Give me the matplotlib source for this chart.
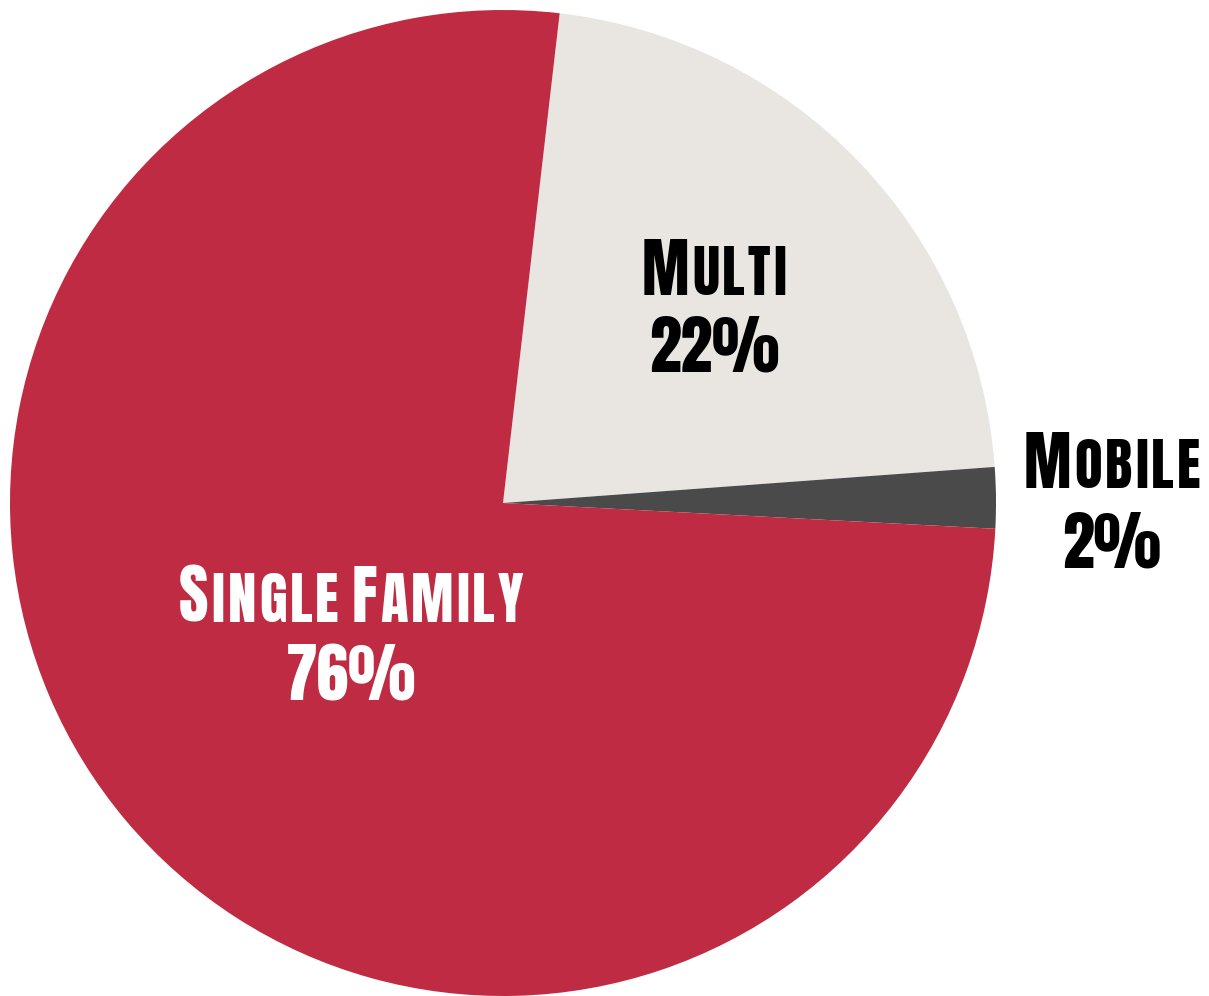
import matplotlib
matplotlib.use("Agg")
import matplotlib.pyplot as plt
import matplotlib.transforms as transforms

# Housing type shares
categories = ["Multi", "Mobile", "Single Family"]
shares = [22, 2, 76]
pct_labels = ["22%", "2%", "76%"]

colors = ["#E9E6E1", "#4A4A4A", "#BE2B42"]
text_colors = ["black", "black", "white"]
# label centre x, name baseline y, pct baseline y (data units, radius = 1)
label_pos = [(0.428, 0.422, 0.266), (1.235, 0.030, -0.130), (-0.308, -0.241, -0.400)]

FONT = ["Anton", "Liberation Sans Narrow", "DejaVu Sans"]
BIG, SMALL = 46, 41
TRACK = 3  # extra px between letters

fig = plt.figure(figsize=(12.09, 9.96), dpi=100)
ax = fig.add_axes([10 / 1209, 0, 986 / 1209, 986 / 996])
ax.pie(shares, colors=colors, startangle=83.4, counterclock=False,
       radius=1, wedgeprops=dict(linewidth=0))
ax.set_xlim(-1, 1)
ax.set_ylim(-1, 1)
ax.axis("off")

renderer = fig.canvas.get_renderer()


def small_caps(x, y, text, color, big=BIG, small=SMALL):
    # small caps by hand: first letter of each word large, rest smaller
    pieces = []
    for i, word in enumerate(text.split(" ")):
        if i:
            pieces.append((" ", small))
        for j, ch in enumerate(word.upper()):
            pieces.append((ch, big if j == 0 else small))
    arts, widths = [], []
    for s, size in pieces:
        t = ax.text(x, y, s, fontsize=size, family=FONT, color=color,
                    ha="left", va="baseline")
        if s == " ":
            w = 0.18 * size * fig.dpi / 72
        else:
            w = t.get_window_extent(renderer).width + TRACK
        arts.append(t)
        widths.append(w)
    off = -(sum(widths) - TRACK) / 2
    for t, w in zip(arts, widths):
        t.set_transform(transforms.offset_copy(ax.transData, fig=fig, x=off, y=0, units="dots"))
        off += w


for name, pct, (x, y1, y2), c in zip(categories, pct_labels, label_pos, text_colors):
    small_caps(x, y1, name, c)
    ax.text(x, y2, pct, fontsize=BIG, family=FONT, color=c, ha="center", va="baseline")

fig.savefig("out.png", dpi=100, facecolor="white")
